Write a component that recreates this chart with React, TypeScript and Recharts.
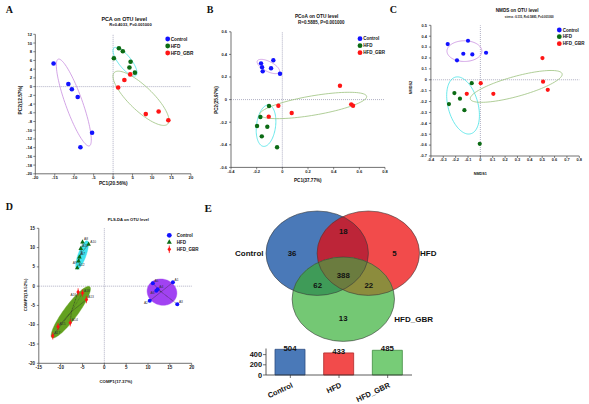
import React from 'react';
import { ScatterChart, Scatter, XAxis, YAxis, ReferenceLine, BarChart, Bar, Cell, LabelList } from 'recharts';

const FONT = '"Liberation Sans", Arial, Helvetica, sans-serif';
const SERIF = '"Liberation Serif", "Times New Roman", serif';

type Pt = { x: number; y: number; label?: string };
type Ell = { c: [number, number]; m: [number, number]; n: [number, number] };

// ---------- shared ----------
const groupNames = ['Control', 'HFD', 'HFD_GBR'];
const POINT_COLORS = ['#1212ff', '#0b6b14', '#ff1515'];
const ELL_LINE = ['#c88ee0', '#45e2e6', '#9cc27e'];
const ELL_FILL_D = ['#a142f2', '#3fe2ee', '#63a11f'];

// ---------- A: PCA ----------
const pcaTitle = 'PCA on OTU level';
const pcaStats = 'R=0.4033, P=0.001000';
const pcaXLabel = 'PC1(20.56%)';
const pcaYLabel = 'PC2(12.57%)';
const pcaXTicks = [-20, -15, -10, -5, 0, 5, 10, 15, 20];
const pcaYTicks = [12, 10, 8, 6, 4, 2, 0, -2, -4, -6, -8, -10, -12, -14, -16, -18, -20];
const pcaControl: Pt[] = [
  { x: -15.3, y: 5.3 }, { x: -11.5, y: 0.6 }, { x: -10.6, y: -0.6 },
  { x: -9.1, y: -2.4 }, { x: -5.4, y: -10.6 }, { x: -8.4, y: -13.9 },
];
const pcaHFD: Pt[] = [
  { x: 0.2, y: 6.5 }, { x: 1.5, y: 8.8 }, { x: 2.5, y: 8.1 },
  { x: 4.5, y: 5.7 }, { x: 4.2, y: 4.4 }, { x: 5.6, y: 3.2 },
];
const pcaGBR: Pt[] = [
  { x: 4.4, y: 2.8 }, { x: 2.9, y: 1.5 }, { x: 1.3, y: -0.2 },
  { x: 8.4, y: -6.3 }, { x: 11.7, y: -5.7 }, { x: 14.2, y: -7.7 },
];
const pcaEllipses: Ell[] = [
  { c: [-10.1, -3.65], m: [-6.1, -13.6], n: [-8.05, -3.0] },
  { c: [3.06, 5.71], m: [5.89, 2.55], n: [4.3, 6.61] },
  { c: [7.17, -2.68], m: [14.04, -8.58], n: [9.31, -0.7] },
];

// ---------- B: PCoA ----------
const pcoaTitle = 'PCoA on OTU level';
const pcoaStats = 'R=0.5885, P=0.001000';
const pcoaXLabel = 'PC1(37.77%)';
const pcoaYLabel = 'PC2(25.97%)';
const pcoaXTicks = [-0.4, -0.2, 0, 0.2, 0.4, 0.6, 0.8];
const pcoaYTicks = [-0.6, -0.4, -0.2, 0, 0.2, 0.4, 0.6];
const pcoaControl: Pt[] = [
  { x: -0.166, y: 0.321 }, { x: -0.158, y: 0.286 }, { x: -0.153, y: 0.25 },
  { x: -0.07, y: 0.348 }, { x: -0.088, y: 0.277 }, { x: -0.018, y: 0.229 },
];
const pcoaHFD: Pt[] = [
  { x: -0.104, y: -0.057 }, { x: -0.171, y: -0.154 }, { x: -0.197, y: -0.234 },
  { x: -0.117, y: -0.24 }, { x: -0.16, y: -0.325 }, { x: -0.041, y: -0.422 },
];
const pcoaGBR: Pt[] = [
  { x: -0.031, y: -0.054 }, { x: -0.106, y: -0.151 }, { x: 0.073, y: -0.119 },
  { x: 0.449, y: 0.123 }, { x: 0.537, y: -0.042 }, { x: 0.551, y: -0.054 },
];
const pcoaEllipses: Ell[] = [
  { c: [-0.109, 0.293], m: [-0.023, 0.262], n: [-0.125, 0.348] },
  { c: [-0.127, -0.231], m: [-0.107, -0.048], n: [-0.053, -0.24] },
  { c: [0.241, -0.052], m: [0.657, 0.029], n: [0.255, -0.136] },
];

// ---------- C: NMDS ----------
const nmdsTitle = 'NMDS on OTU level';
const nmdsStats = 'stress :0.115, R=0.5885, P=0.001000';
const nmdsXLabel = 'NMDS1';
const nmdsYLabel = 'NMDS2';
const nmdsXTicks = [-0.4, -0.3, -0.2, -0.1, 0, 0.1, 0.2, 0.3, 0.4, 0.5, 0.6, 0.7, 0.8];
const nmdsYTicks = [0.5, 0.4, 0.3, 0.2, 0.1, 0, -0.1, -0.2, -0.3, -0.4, -0.5, -0.6, -0.7];
const nmdsControl: Pt[] = [
  { x: -0.264, y: 0.328 }, { x: -0.1, y: 0.358 }, { x: -0.138, y: 0.239 },
  { x: -0.065, y: 0.233 }, { x: -0.189, y: 0.178 }, { x: 0.046, y: 0.248 },
];
const nmdsHFD: Pt[] = [
  { x: -0.07, y: -0.031 }, { x: -0.21, y: -0.122 }, { x: -0.165, y: -0.174 },
  { x: -0.254, y: -0.223 }, { x: -0.129, y: -0.279 }, { x: -0.005, y: -0.588 },
];
const nmdsGBR: Pt[] = [
  { x: 0.003, y: -0.031 }, { x: -0.11, y: -0.129 }, { x: 0.105, y: -0.129 },
  { x: 0.502, y: 0.199 }, { x: 0.507, y: -0.018 }, { x: 0.545, y: -0.092 },
];
const nmdsEllipses: Ell[] = [
  { c: [-0.129, 0.263], m: [0.012, 0.263], n: [-0.129, 0.358] },
  { c: [-0.14, -0.236], m: [-0.202, 0.024], n: [-0.023, -0.2] },
  { c: [0.29, -0.061], m: [0.661, 0.055], n: [0.311, -0.15] },
];

// ---------- D: PLS-DA ----------
const plsTitle = 'PLS-DA on OTU level';
const plsXLabel = 'COMP1(17.37%)';
const plsYLabel = 'COMP2(10.52%)';
const plsXTicks = [-15, -10, -5, 0, 5, 10, 15, 20];
const plsYTicks = [15, 10, 5, 0, -5, -10, -15, -20];
const plsControl: Pt[] = [
  { x: 15.7, y: 1.0, label: 'A1' }, { x: 10.4, y: -3.8, label: 'A2' }, { x: 16.7, y: -4.7, label: 'A3' },
  { x: 12.2, y: -0.8, label: 'A4' }, { x: 11.1, y: 0.75, label: 'A5' }, { x: 11.9, y: -1.2, label: 'A6' },
];
const plsHFD: Pt[] = [
  { x: -5.7, y: 7.6, label: 'A7' }, { x: -5.0, y: 11.5, label: 'A8' }, { x: -5.9, y: 6.6, label: 'A9' },
  { x: -3.6, y: 10.9, label: 'A10' }, { x: -5.4, y: 9.8, label: 'A11' }, { x: -6.2, y: 4.8, label: 'A12' },
];
const plsGBR: Pt[] = [
  { x: -4.1, y: -3.5, label: 'A13' }, { x: -7.8, y: -9.5, label: 'A14' }, { x: -10.6, y: -10.5, label: 'A15' },
  { x: -6.0, y: -1.5, label: 'A16' }, { x: -11.8, y: -12.9, label: 'A17' }, { x: -5.0, y: -1.8, label: 'A18' },
];
const plsEllipses: Ell[] = [
  { c: [13.2, -1.55], m: [16.5, -2.66], n: [14.05, 1.68] },
  { c: [-5.09, 8.09], m: [-3.92, 11.77], n: [-4.23, 7.74] },
  { c: [-7.68, -6.74], m: [-3.36, -0.13], n: [-6.42, -7.83] },
];
// labels drawn on the left / below their point (style only)
const LABEL_LEFT = new Set(['A6', 'A16', 'A9', 'A2']);

// ---------- E: Venn + totals ----------
const vennRegionKeys = ['C', 'H', 'G', 'CH', 'CG', 'HG', 'CHG'];
const vennRegionCounts = [36, 5, 13, 18, 62, 22, 388];
const vennTotals = [504, 433, 485];
const barTicks = [0, 200, 400];

// layout constants for the Venn (page pixels, not data)
const VENN_BOX = { left: 220, top: 205, width: 230, height: 140 };
const VENN_CENTERS: [number, number][] = [[317.2, 253.2], [368.3, 253.2], [343.3, 299.2]];
const VENN_RX = 51.2;
const VENN_RY = 42.2;
const VENN_NAME_POS: [number, number, string][] = [[263.5, 256, 'end'], [420, 256, 'start'], [394.3, 321.7, 'start']];
const VENN_COUNT_POS: Record<string, [number, number]> = {
  C: [292, 256], H: [394.3, 256], G: [343.2, 321], CH: [343.3, 234.3],
  CG: [317.7, 288], HG: [368.8, 288], CHG: [343.3, 277.7],
};
const VENN_SINGLE = ['#4a79b8', '#f24b4b', '#74c874'];
const VENN_MIX = { CH: '#bd2538', CG: '#3f9b58', HG: '#8c8c3d', CHG: '#6b7c3f' };
const BAR_FILL = ['#4a79b8', '#f24b4b', '#77cc77'];
const BAR_STROKE = ['#2c4c80', '#b02a2a', '#3f8c3f'];

// ---------- helpers ----------
function ellipseOutline(e: Ell): Pt[] {
  const out: Pt[] = [];
  const ux = e.m[0] - e.c[0], uy = e.m[1] - e.c[1];
  const vx = e.n[0] - e.c[0], vy = e.n[1] - e.c[1];
  const N = 96;
  for (let i = 0; i <= N; i++) {
    const t = (i / N) * Math.PI * 2;
    const c = Math.cos(t), s = Math.sin(t);
    out.push({ x: e.c[0] + c * ux + s * vx, y: e.c[1] + c * uy + s * vy });
  }
  return out;
}

function centroid(pts: Pt[]): Pt {
  const n = pts.length;
  return { x: pts.reduce((a, p) => a + p.x, 0) / n, y: pts.reduce((a, p) => a + p.y, 0) / n };
}

function starLines(pts: Pt[]): Pt[] {
  const c = centroid(pts);
  const out: Pt[] = [];
  pts.forEach((p) => { out.push(c); out.push(p); });
  return out;
}

const NoShape = () => <g />;

const fmtInt = (v: number) => String(v);
const fmt1 = (v: number) => (Math.abs(v) < 1e-9 ? '0' : v.toFixed(1));

function triangle(cx: number, cy: number, color: string, s = 1) {
  return (
    <polygon
      points={`${cx},${cy - 2.5 * s} ${cx + 2.3 * s},${cy + 1.7 * s} ${cx - 2.3 * s},${cy + 1.7 * s}`}
      fill={color}
    />
  );
}
function diamondBar(cx: number, cy: number, color: string, s = 1) {
  return (
    <g>
      <line x1={cx} y1={cy - 3.6 * s} x2={cx} y2={cy + 3.6 * s} stroke={color} strokeWidth={0.8} />
      <polygon
        points={`${cx},${cy - 2.3 * s} ${cx + 1.8 * s},${cy} ${cx},${cy + 2.3 * s} ${cx - 1.8 * s},${cy}`}
        fill={color}
      />
    </g>
  );
}

const dotShape = (color: string, r: number) => (p: any) => <circle cx={p.cx} cy={p.cy} r={r} fill={color} />;

const labelled = (kind: number) => (p: any) => {
  const color = POINT_COLORS[kind];
  const mark =
    kind === 0 ? <circle cx={p.cx} cy={p.cy} r={2} fill={color} /> :
    kind === 1 ? triangle(p.cx, p.cy, color) : diamondBar(p.cx, p.cy, color);
  const left = LABEL_LEFT.has(p.payload.label);
  return (
    <g>
      {mark}
      <text
        x={left ? p.cx - 1.8 : p.cx + 1.6} y={left ? p.cy + 3.6 : p.cy - 1.5}
        textAnchor={left ? 'end' : 'start'} fontSize={3.3} fill="#333" fontFamily={FONT}
      >
        {p.payload.label}
      </text>
    </g>
  );
};

type Series = { name: string; data: Pt[]; shape: any };
type EllSpec = { geom: Ell; color: string; filled?: boolean };
type PanelProps = {
  frame: { left: number; top: number; width: number; height: number };
  plot: { x0: number; y0: number; x1: number; y1: number };
  xDomain: [number, number];
  yDomain: [number, number];
  xTicks: number[];
  yTicks: number[];
  fmt: (v: number) => string;
  fontSize: number;
  yTickMargin: number;
  series: Series[];
  ellipses: EllSpec[];
  stars?: boolean;
};

function ScatterPanel(props: PanelProps) {
  const { frame, plot, xDomain, yDomain, xTicks, yTicks, fmt, fontSize, yTickMargin, series, ellipses, stars } = props;
  const xAxisH = 12;
  const margin = {
    top: plot.y0 - frame.top,
    right: frame.left + frame.width - plot.x1,
    bottom: frame.top + frame.height - plot.y1 - xAxisH,
    left: 0,
  };
  const yAxisW = plot.x0 - frame.left;
  const tick = { fontSize, fill: '#222', fontWeight: 700, fontFamily: FONT };
  const axisLine = { stroke: '#333', strokeWidth: 0.7 };
  const tickLine = { stroke: '#333', strokeWidth: 0.6 };
  return (
    <div style={{ position: 'absolute', left: frame.left, top: frame.top }}>
      <ScatterChart width={frame.width} height={frame.height} margin={margin}>
        <XAxis
          type="number" dataKey="x" domain={xDomain} ticks={xTicks} interval={0} allowDataOverflow
          height={xAxisH} tick={tick} tickFormatter={fmt} tickSize={2} tickMargin={0.6}
          axisLine={axisLine} tickLine={tickLine}
        />
        <YAxis
          type="number" dataKey="y" domain={yDomain} ticks={yTicks} interval={0} allowDataOverflow
          width={yAxisW} tick={tick} tickFormatter={fmt} tickSize={2} tickMargin={yTickMargin}
          axisLine={axisLine} tickLine={tickLine}
        />
        {ellipses.map((e, i) => (
          <Scatter
            key={'e' + i}
            data={ellipseOutline(e.geom)}
            line={e.filled ? { stroke: e.color, strokeWidth: 0.4, fill: e.color } : { stroke: e.color, strokeWidth: 0.8, fill: 'none' }}
            shape={NoShape}
            isAnimationActive={false}
            legendType="none"
          />
        ))}
        <ReferenceLine x={0} stroke="#9a9ab4" strokeWidth={0.8} strokeDasharray="1 1" />
        <ReferenceLine y={0} stroke="#9a9ab4" strokeWidth={0.8} strokeDasharray="1 1" />
        {stars && series.map((s, i) => (
          <Scatter
            key={'st' + i}
            data={starLines(s.data)}
            line={{ stroke: '#2a2a2a', strokeWidth: 0.4, strokeDasharray: '0.8 0.8', fill: 'none' }}
            shape={NoShape}
            isAnimationActive={false}
            legendType="none"
          />
        ))}
        {series.map((s, i) => (
          <Scatter key={'s' + i} name={s.name} data={s.data} shape={s.shape} isAnimationActive={false} />
        ))}
      </ScatterChart>
    </div>
  );
}

// ---------- Venn shapes ----------
const VennFill = (p: any) => {
  const i = p.payload.idx as number;
  const el = (fill: string, clip?: string) => (
    <ellipse cx={p.cx} cy={p.cy} rx={VENN_RX} ry={VENN_RY} fill={fill} clipPath={clip} />
  );
  return (
    <g>
      <defs>
        <clipPath id={`venn-clip-${i}`}>
          <ellipse cx={p.cx} cy={p.cy} rx={VENN_RX} ry={VENN_RY} />
        </clipPath>
      </defs>
      {el(VENN_SINGLE[i])}
      {i === 1 && el(VENN_MIX.CH, 'url(#venn-clip-0)')}
      {i === 2 && el(VENN_MIX.CG, 'url(#venn-clip-0)')}
      {i === 2 && el(VENN_MIX.HG, 'url(#venn-clip-1)')}
      {i === 2 && <g clipPath="url(#venn-clip-0)">{el(VENN_MIX.CHG, 'url(#venn-clip-1)')}</g>}
    </g>
  );
};
const VennOutline = (p: any) => (
  <ellipse cx={p.cx} cy={p.cy} rx={VENN_RX} ry={VENN_RY} fill="none" stroke="#3a3a3a" strokeWidth={0.6} />
);
const VennName = (p: any) => (
  <text x={p.cx} y={p.cy} textAnchor={p.payload.anchor} fontSize={8} fontWeight={700} fill="#111" fontFamily={FONT}>
    {p.payload.name}
  </text>
);
const VennCount = (p: any) => (
  <text x={p.cx} y={p.cy} textAnchor="middle" fontSize={7.8} fontWeight={700} fill="#111" fontFamily={FONT}>
    {p.payload.count}
  </text>
);

const RotTick = (p: any) => {
  const ax = p.x + 3;
  const ay = p.y + 7;
  return (
    <text
      x={ax} y={ay} textAnchor="end" transform={`rotate(-25, ${ax}, ${ay})`}
      fontSize={7.5} fontWeight={700} fill="#111" fontFamily={FONT}
    >
      {p.payload.value}
    </text>
  );
};

function VennPanel() {
  const setData = groupNames.map((name, idx) => ({ x: VENN_CENTERS[idx][0], y: VENN_CENTERS[idx][1], idx, name }));
  const nameData = groupNames.map((name, idx) => ({
    x: VENN_NAME_POS[idx][0], y: VENN_NAME_POS[idx][1], anchor: VENN_NAME_POS[idx][2], name,
  }));
  const countData = vennRegionKeys.map((k, i) => ({
    x: VENN_COUNT_POS[k][0], y: VENN_COUNT_POS[k][1], count: vennRegionCounts[i],
  }));
  const b = VENN_BOX;
  return (
    <div style={{ position: 'absolute', left: b.left, top: b.top }}>
      <ScatterChart width={b.width} height={b.height} margin={{ top: 0, right: 0, bottom: 0, left: 0 }}>
        <XAxis type="number" dataKey="x" domain={[b.left, b.left + b.width]} allowDataOverflow hide />
        <YAxis type="number" dataKey="y" domain={[b.top, b.top + b.height]} allowDataOverflow reversed hide />
        <Scatter data={setData} shape={VennFill} isAnimationActive={false} />
        <Scatter data={setData} shape={VennOutline} isAnimationActive={false} />
        <Scatter data={nameData} shape={VennName} isAnimationActive={false} />
        <Scatter data={countData} shape={VennCount} isAnimationActive={false} />
      </ScatterChart>
    </div>
  );
}

function TotalsPanel() {
  const data = groupNames.map((name, i) => ({ name, value: vennTotals[i] }));
  return (
    <div style={{ position: 'absolute', left: 240, top: 340 }}>
      <BarChart width={180} height={70} data={data} margin={{ top: 8.5, right: 8, bottom: 6, left: 0 }}>
        <XAxis
          dataKey="name" height={29} interval={0} tick={<RotTick />} tickSize={3}
          axisLine={{ stroke: '#333', strokeWidth: 0.8 }} tickLine={{ stroke: '#333', strokeWidth: 0.7 }}
        />
        <YAxis
          type="number" domain={[0, 520]} ticks={barTicks} interval={0} width={26} tickSize={3} tickMargin={1}
          tick={{ fontSize: 7.4, fontWeight: 700, fill: '#111', fontFamily: FONT }}
          axisLine={{ stroke: '#333', strokeWidth: 0.8 }} tickLine={{ stroke: '#333', strokeWidth: 0.7 }}
        />
        <Bar dataKey="value" barSize={30} isAnimationActive={false} strokeWidth={0.8}>
          {data.map((d, i) => (
            <Cell key={d.name} fill={BAR_FILL[i]} stroke={BAR_STROKE[i]} />
          ))}
          <LabelList
            dataKey="value" position="top" offset={-1.2}
            style={{ fontSize: 7.8, fontWeight: 700, fill: '#111', fontFamily: FONT }}
          />
        </Bar>
      </BarChart>
    </div>
  );
}

// ---------- overlay text ----------
function T(props: { x: number; y: number; s: number; a?: string; w?: number; f?: string; rot?: boolean; children: any }) {
  const { x, y, s, a = 'start', w = 700, f = FONT, rot, children } = props;
  return (
    <text
      x={x} y={y} fontSize={s} textAnchor={a as any} fontWeight={w} fontFamily={f} fill="#111"
      transform={rot ? `rotate(-90, ${x}, ${y})` : undefined}
    >
      {children}
    </text>
  );
}

function LegendBlock({ x, ys, tx, size, kind }: { x: number; ys: number[]; tx: number; size: number; kind: 'dot' | 'pls' }) {
  return (
    <g>
      {groupNames.map((name, i) => {
        const color = POINT_COLORS[i];
        const mark =
          kind === 'dot' || i === 0 ? <circle cx={x} cy={ys[i]} r={2.4} fill={color} /> :
          i === 1 ? triangle(x, ys[i], color, 1.1) : diamondBar(x, ys[i], color, 1.05);
        return (
          <g key={name}>
            {mark}
            <T x={tx} y={ys[i] + 1.6} s={size}>{name}</T>
          </g>
        );
      })}
    </g>
  );
}

function Overlay() {
  return (
    <svg width={589} height={404} style={{ position: 'absolute', left: 0, top: 0, pointerEvents: 'none' }}>
      {/* panel letters */}
      <T x={5.8} y={13.4} s={10} f={SERIF}>A</T>
      <T x={206.8} y={13.4} s={10} f={SERIF}>B</T>
      <T x={389.8} y={13.2} s={10} f={SERIF}>C</T>
      <T x={5.8} y={210.2} s={10} f={SERIF}>D</T>
      <T x={204.6} y={211.8} s={11} f={SERIF}>E</T>

      {/* A */}
      <T x={124.2} y={20.6} s={5.4} a="middle">{pcaTitle}</T>
      <T x={130.5} y={25.5} s={4.1} a="middle">{pcaStats}</T>
      <T x={113.3} y={185} s={4.8} a="middle">{pcaXLabel}</T>
      <T x={22} y={100} s={4.8} a="middle" rot>{pcaYLabel}</T>
      <LegendBlock x={167.7} ys={[39, 46, 53]} tx={170.7} size={4.7} kind="dot" />

      {/* B */}
      <T x={316.7} y={17.7} s={4.8} a="middle">{pcoaTitle}</T>
      <T x={321.3} y={24.3} s={4.5} a="middle">{pcoaStats}</T>
      <T x={307.8} y={181.7} s={4.6} a="middle">{pcoaXLabel}</T>
      <T x={217.5} y={100} s={4.6} a="middle" rot>{pcoaYLabel}</T>
      <LegendBlock x={360} ys={[38.7, 45.7, 52.7]} tx={363.3} size={4.5} kind="dot" />

      {/* C */}
      <T x={517.2} y={11.5} s={4.6} a="middle">{nmdsTitle}</T>
      <T x={529.3} y={17.7} s={2.9} a="middle">{nmdsStats}</T>
      <T x={480.3} y={175.2} s={3.8} a="middle">{nmdsXLabel}</T>
      <T x={412} y={87.5} s={3.8} a="middle" rot>{nmdsYLabel}</T>
      <LegendBlock x={559.3} ys={[30, 36.7, 43.7]} tx={562.7} size={4.5} kind="dot" />

      {/* D */}
      <T x={128.3} y={221} s={4.1} a="middle">{plsTitle}</T>
      <T x={115.8} y={382.5} s={4.3} a="middle">{plsXLabel}</T>
      <T x={26.7} y={295} s={4.3} a="middle" rot>{plsYLabel}</T>
      <LegendBlock x={169.3} ys={[235.3, 242, 249.3]} tx={176.7} size={4.5} kind="pls" />
    </svg>
  );
}

export default function App() {
  const dotSeries = (a: Pt[], b: Pt[], c: Pt[], r: number): Series[] => [
    { name: groupNames[0], data: a, shape: dotShape(POINT_COLORS[0], r) },
    { name: groupNames[1], data: b, shape: dotShape(POINT_COLORS[1], r) },
    { name: groupNames[2], data: c, shape: dotShape(POINT_COLORS[2], r) },
  ];
  const lineEll = (arr: Ell[]): EllSpec[] => arr.map((g, i) => ({ geom: g, color: ELL_LINE[i] }));
  const fillEll = (arr: Ell[]): EllSpec[] => arr.map((g, i) => ({ geom: g, color: ELL_FILL_D[i], filled: true }));

  return (
    <div style={{ position: 'absolute', left: 0, top: 0, width: 589, height: 404, background: '#fff', overflow: 'hidden' }}>
      <ScatterPanel
        frame={{ left: 0, top: 0, width: 200, height: 195 }}
        plot={{ x0: 35.3, y0: 34.3, x1: 190.9, y1: 173.8 }}
        xDomain={[-20, 20]} yDomain={[-20, 12]} xTicks={pcaXTicks} yTicks={pcaYTicks}
        fmt={fmtInt} fontSize={4.2} yTickMargin={1.2}
        series={dotSeries(pcaControl, pcaHFD, pcaGBR, 2.3)}
        ellipses={lineEll(pcaEllipses)}
      />
      <ScatterPanel
        frame={{ left: 195, top: 0, width: 200, height: 195 }}
        plot={{ x0: 231, y0: 31.8, x1: 385, y1: 167.4 }}
        xDomain={[-0.4, 0.8]} yDomain={[-0.6, 0.6]} xTicks={pcoaXTicks} yTicks={pcoaYTicks}
        fmt={fmt1} fontSize={4} yTickMargin={2}
        series={dotSeries(pcoaControl, pcoaHFD, pcoaGBR, 2.2)}
        ellipses={lineEll(pcoaEllipses)}
      />
      <ScatterPanel
        frame={{ left: 395, top: 0, width: 194, height: 180 }}
        plot={{ x0: 430.9, y0: 25.3, x1: 579.3, y1: 156 }}
        xDomain={[-0.4, 0.8]} yDomain={[-0.7, 0.5]} xTicks={nmdsXTicks} yTicks={nmdsYTicks}
        fmt={fmt1} fontSize={3.9} yTickMargin={2}
        series={dotSeries(nmdsControl, nmdsHFD, nmdsGBR, 2.1)}
        ellipses={lineEll(nmdsEllipses)}
      />
      <ScatterPanel
        frame={{ left: 0, top: 195, width: 200, height: 200 }}
        plot={{ x0: 38.8, y0: 228.3, x1: 191.7, y1: 363.3 }}
        xDomain={[-15, 20]} yDomain={[-20, 15]} xTicks={plsXTicks} yTicks={plsYTicks}
        fmt={fmtInt} fontSize={4.5} yTickMargin={1.8}
        series={[
          { name: groupNames[0], data: plsControl, shape: labelled(0) },
          { name: groupNames[1], data: plsHFD, shape: labelled(1) },
          { name: groupNames[2], data: plsGBR, shape: labelled(2) },
        ]}
        ellipses={fillEll(plsEllipses)}
        stars
      />
      <VennPanel />
      <TotalsPanel />
      <Overlay />
    </div>
  );
}
